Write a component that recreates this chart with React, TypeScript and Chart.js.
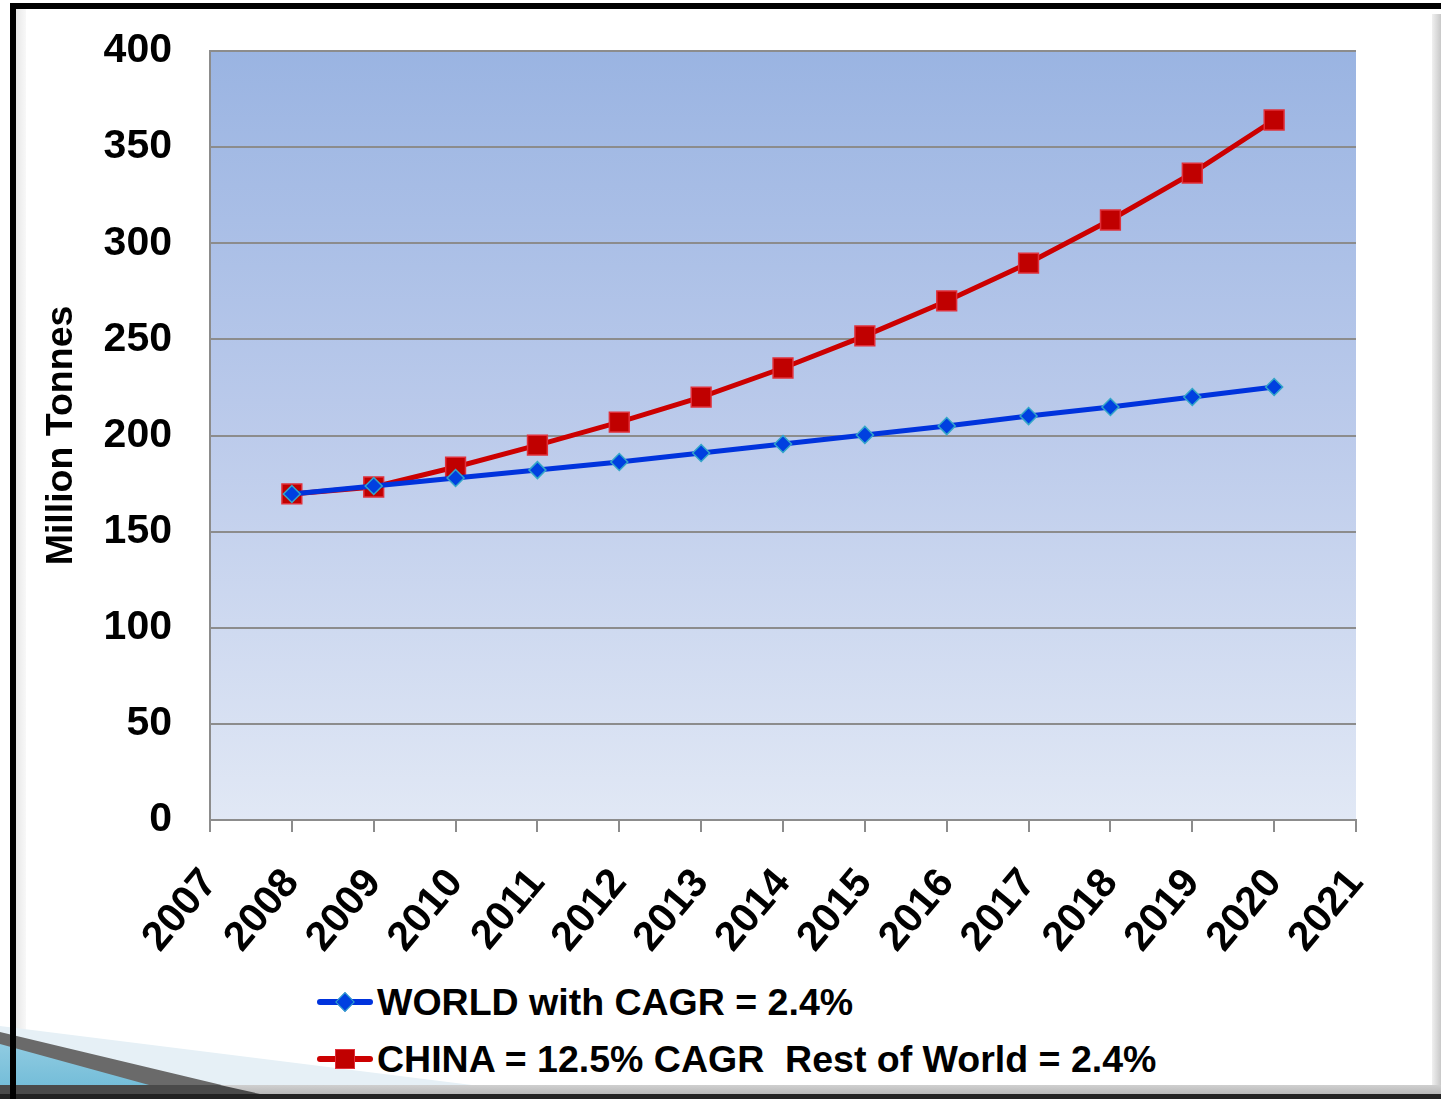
import React, { useEffect, useRef } from "react";
import { Chart, registerables } from "chart.js";

Chart.register(...registerables);

const years = ["2007", "2008", "2009", "2010", "2011", "2012", "2013", "2014", "2015", "2016", "2017", "2018", "2019", "2020", "2021"];
const worldValues = [null, 169.6, 173.7, 177.9, 182.0, 186.2, 190.9, 195.6, 200.3, 204.9, 210.1, 214.8, 220.0, 225.2, null];
const chinaValues = [null, 169.6, 173.2, 183.6, 195.0, 207.0, 220.0, 235.1, 251.8, 270.0, 289.7, 312.1, 336.5, 364.1, null];
const yTicks = [0, 50, 100, 150, 200, 250, 300, 350, 400];
const worldLabel = "WORLD with CAGR = 2.4%";
const chinaLabel = "CHINA = 12.5% CAGR\u00a0\u00a0Rest of World = 2.4%";
const yTitle = "Million Tonnes";

const FONT = '"Liberation Sans", Arial, sans-serif';

const bgPlugin = {
  id: "plotBg",
  beforeDraw(chart: any) {
    const { ctx, chartArea } = chart;
    if (!chartArea) return;
    const g = ctx.createLinearGradient(0, chartArea.top, 0, chartArea.bottom);
    g.addColorStop(0, "#9ab4e2");
    g.addColorStop(0.5, "#bccbeb");
    g.addColorStop(1, "#e1e8f5");
    ctx.save();
    ctx.fillStyle = g;
    ctx.fillRect(chartArea.left, chartArea.top, chartArea.right - chartArea.left, chartArea.bottom - chartArea.top);
    ctx.restore();
  },
};

function ChartCanvas() {
  const ref = useRef<HTMLCanvasElement | null>(null);
  useEffect(() => {
    if (!ref.current) return;
    const chart = new Chart(ref.current, {
      type: "line",
      data: {
        labels: years,
        datasets: [
          {
            label: worldLabel,
            data: worldValues as any,
            borderColor: "#0033dd",
            borderWidth: 5,
            pointStyle: "rectRot",
            pointRadius: 8.5,
            pointBackgroundColor: "#0040e0",
            pointBorderColor: "#33a6c8",
            pointBorderWidth: 1.5,
            tension: 0,
          },
          {
            label: chinaLabel,
            data: chinaValues as any,
            borderColor: "#cc0000",
            borderWidth: 5,
            pointStyle: "rect",
            pointRadius: 14,
            pointBackgroundColor: "#c00000",
            pointBorderColor: "#e0303a",
            pointBorderWidth: 1.5,
            tension: 0,
          },
        ],
      },
      options: {
        animation: false,
        responsive: false,
        maintainAspectRatio: false,
        layout: { padding: { left: 0, right: 85, top: 51, bottom: 0 } },
        plugins: { legend: { display: false }, tooltip: { enabled: false } },
        scales: {
          x: {
            type: "category",
            offset: false,
            grid: { drawOnChartArea: false, drawTicks: true, tickLength: 12, color: "#8c8c8c", lineWidth: 2 },
            border: { display: true, color: "#8c8c8c", width: 2 },
            ticks: {
              autoSkip: false,
              minRotation: 50,
              maxRotation: 50,
              padding: 28,
              color: "#000",
              font: { family: FONT, size: 41, weight: "bold" },
            },
            afterFit(scale: any) {
              scale.height = 160;
              scale.paddingLeft = 0;
              scale.paddingRight = 0;
              scale.paddingTop = 0;
              scale.paddingBottom = 0;
            },
          },
          y: {
            min: 0,
            max: 400,
            afterBuildTicks(scale: any) {
              scale.ticks = yTicks.map((v) => ({ value: v }));
            },
            grid: { drawTicks: false, color: "#8c8c8c", lineWidth: 2 },
            border: { display: true, color: "#8c8c8c", width: 2 },
            ticks: {
              padding: 38,
              color: "#000",
              font: { family: FONT, size: 41, weight: "bold" },
            },
            title: {
              display: true,
              text: yTitle,
              color: "#000",
              padding: { top: 39, bottom: 0 },
              font: { family: FONT, size: 37.5, weight: "bold" },
            },
            afterFit(scale: any) {
              scale.width = 210;
              scale.paddingTop = 0;
              scale.paddingBottom = 0;
              scale.paddingLeft = 0;
              scale.paddingRight = 0;
            },
          },
        },
      },
      plugins: [bgPlugin],
    });
    return () => chart.destroy();
  }, []);
  return <canvas ref={ref} width={1441} height={980} style={{ position: "absolute", left: 0, top: 0, width: 1441, height: 980 }} />;
}

function LegendRow({ top, color, marker, text }: { top: number; color: string; marker: "diamond" | "square"; text: string }) {
  return (
    <div style={{ position: "absolute", left: 317, top, height: 44, display: "flex", alignItems: "center" }}>
      <div style={{ position: "relative", width: 56, height: 44 }}>
        <div style={{ position: "absolute", left: 0, top: 19, width: 56, height: 6, borderRadius: 3, background: color }} />
        {marker === "diamond" ? (
          <div style={{ position: "absolute", left: 21, top: 15, width: 12, height: 12, background: "#0040e0", border: "1.5px solid #33a6c8", transform: "rotate(45deg)" }} />
        ) : (
          <div style={{ position: "absolute", left: 18, top: 12, width: 20, height: 20, background: "#c00000", border: "1.5px solid #e0303a", boxSizing: "border-box" }} />
        )}
      </div>
      <div style={{ marginLeft: 4, font: `bold 37.5px ${FONT}`, color: "#000", whiteSpace: "pre", lineHeight: "44px" }}>{text}</div>
    </div>
  );
}

export default function App() {
  return (
    <div style={{ position: "absolute", left: 0, top: 0, width: 1441, height: 1099, overflow: "hidden", background: "#fff" }}>
      {/* slide frame */}
      <div style={{ position: "absolute", left: 16, top: 9, width: 10, height: 1090, background: "linear-gradient(to right, #e8e8e8, #f8f8f8)" }} />
      <div style={{ position: "absolute", left: 1432, top: 14, width: 9, height: 1085, background: "linear-gradient(to right, #f0f0f0, #c8c8c8)" }} />
      <ChartCanvas />
      {/* bottom-left decoration */}
      <div style={{ position: "absolute", left: 0, top: 1020, width: 480, height: 79, background: "#e6f0f6", clipPath: "polygon(0 6px, 480px 66px, 480px 79px, 0 79px)" }} />
      <div style={{ position: "absolute", left: 0, top: 1020, width: 300, height: 79, background: "#6a6a6a", clipPath: "polygon(0 12px, 280px 79px, 0 79px)" }} />
      <div style={{ position: "absolute", left: 0, top: 1020, width: 300, height: 79, background: "linear-gradient(to bottom, #9fd3e6, #6cb9d6)", clipPath: "polygon(0 24px, 200px 79px, 0 79px)" }} />
      <div style={{ position: "absolute", left: 16, top: 1085, width: 1425, height: 9, background: "linear-gradient(to bottom, #cfcfcf, #b8b8b8)" }} />
      <div style={{ position: "absolute", left: 0, top: 1085, width: 260, height: 9, background: "#4a4a4a", clipPath: "polygon(0 0, 220px 0, 260px 9px, 0 9px)" }} />
      <div style={{ position: "absolute", left: 0, top: 1094, width: 1441, height: 5, background: "#222" }} />
      <LegendRow top={980} color="#0033dd" marker="diamond" text={worldLabel} />
      <LegendRow top={1037} color="#cc0000" marker="square" text={chinaLabel} />
      <div style={{ position: "absolute", left: 10, top: 3, width: 1431, height: 6, background: "#000" }} />
      <div style={{ position: "absolute", left: 10, top: 3, width: 6, height: 1096, background: "#000" }} />
    </div>
  );
}
